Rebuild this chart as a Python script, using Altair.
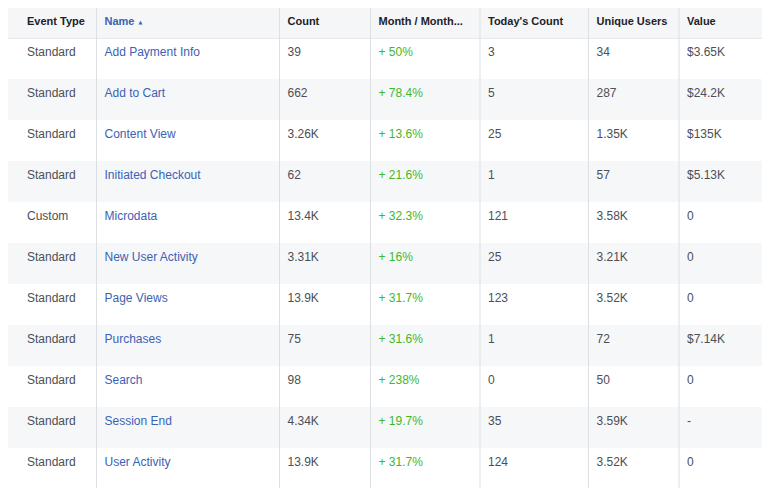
import altair as alt
import pandas as pd

headers = ["Event Type", "Name", "Count", "Month / Month...", "Today's Count", "Unique Users", "Value"]
event_types = ["Standard", "Standard", "Standard", "Standard", "Custom", "Standard",
               "Standard", "Standard", "Standard", "Standard", "Standard"]
names = ["Add Payment Info", "Add to Cart", "Content View", "Initiated Checkout", "Microdata",
         "New User Activity", "Page Views", "Purchases", "Search", "Session End", "User Activity"]
counts = ["39", "662", "3.26K", "62", "13.4K", "3.31K", "13.9K", "75", "98", "4.34K", "13.9K"]
month_change = ["+ 50%", "+ 78.4%", "+ 13.6%", "+ 21.6%", "+ 32.3%", "+ 16%", "+ 31.7%",
                "+ 31.6%", "+ 238%", "+ 19.7%", "+ 31.7%"]
todays_count = ["3", "5", "25", "1", "121", "25", "123", "1", "0", "35", "124"]
unique_users = ["34", "287", "1.35K", "57", "3.58K", "3.21K", "3.52K", "72", "50", "3.59K", "3.52K"]
values = ["$3.65K", "$24.2K", "$135K", "$5.13K", "0", "0", "0", "$7.14K", "0", "-", "0"]

columns = [event_types, names, counts, month_change, todays_count, unique_users, values]
styles = ["plain", "link", "plain", "green", "plain", "plain", "plain"]
n_rows = len(names)

# layout (scale ranges, in pixels; chart origin sits at page (8, 8))
W, H = 754, 480
text_x = [19, 96.5, 279.5, 370.5, 480, 588.5, 679]
line_x = [88.5, 271.5, 362.5, 472, 580.5, 671]
HEADER_H = 30
ROW_RANGE = [HEADER_H, HEADER_H + 41 * n_rows]
FONT = "Liberation Sans"

cells = []
for r in range(n_rows):
    for ci, col in enumerate(columns):
        cells.append({"row": r, "ci": ci, "text": col[r], "style": styles[ci]})
cells_df = pd.DataFrame(cells)

head_df = pd.DataFrame({"ci": list(range(len(headers))), "text": headers,
                        "style": ["head", "headlink"] + ["head"] * 5})
stripe_df = pd.DataFrame({"row": [r for r in range(n_rows) if r % 2 == 1]})
lines_df = pd.DataFrame({"li": list(range(1, len(headers)))})
arrow_df = pd.DataFrame({"ci": [1], "text": ["▲"]})

x_text_scale = alt.Scale(domain=list(range(len(headers))), range=text_x, zero=False, nice=False)
y_scale = alt.Scale(domain=list(range(n_rows)), range=ROW_RANGE, paddingInner=0, paddingOuter=0)
color_scale = alt.Scale(domain=["plain", "link", "green", "head", "headlink"],
                        range=["#4b4f56", "#3b62b5", "#42b72a", "#1d2129", "#3b62b5"])

header_bg = alt.Chart(pd.DataFrame({"a": [0]})).mark_rect(color="#f5f6f7").encode(
    x=alt.value(0), x2=alt.value(W), y=alt.value(0), y2=alt.value(HEADER_H))

header_line = alt.Chart(pd.DataFrame({"a": [0]})).mark_rule(color="#e6e8eb", strokeWidth=1).encode(
    x=alt.value(0), x2=alt.value(W), y=alt.value(HEADER_H + 0.5))

stripes = alt.Chart(stripe_df).mark_rect(color="#f6f7f9").encode(
    x=alt.value(0), x2=alt.value(W),
    y=alt.Y("row:O", scale=y_scale, axis=None))

vlines = alt.Chart(lines_df).mark_rule(color="#dddfe2", strokeWidth=1).encode(
    x=alt.X("li:Q", scale=alt.Scale(domain=list(range(1, len(headers))), range=line_x,
                                    zero=False, nice=False), axis=None),
    y=alt.value(0), y2=alt.value(H))

header_text = alt.Chart(head_df).mark_text(
    align="left", baseline="middle", font=FONT, fontSize=11, fontWeight="bold").encode(
    x=alt.X("ci:Q", scale=x_text_scale, axis=None),
    y=alt.value(14),
    text="text:N",
    color=alt.Color("style:N", scale=color_scale, legend=None))

arrow = alt.Chart(arrow_df).mark_text(
    align="left", baseline="middle", font="DejaVu Sans", fontSize=5, dx=34, color="#3b62b5").encode(
    x=alt.X("ci:Q", scale=x_text_scale, axis=None),
    y=alt.value(13.5),
    text="text:N")

body_text = alt.Chart(cells_df).mark_text(
    align="left", baseline="middle", font=FONT, fontSize=12, dy=-6.5).encode(
    x=alt.X("ci:Q", scale=x_text_scale, axis=None),
    y=alt.Y("row:O", scale=y_scale, axis=None),
    text="text:N",
    color=alt.Color("style:N", scale=color_scale, legend=None))

chart = alt.layer(
    header_bg, stripes, header_line, vlines,
    header_text, arrow, body_text
).resolve_scale(x="independent").properties(
    width=W, height=H, padding=0,
    autosize=alt.AutoSizeParams(type="none"),
    background="white"
).configure_view(stroke=None)

chart.save("out.html", embed_options={"renderer": "svg", "actions": False})
